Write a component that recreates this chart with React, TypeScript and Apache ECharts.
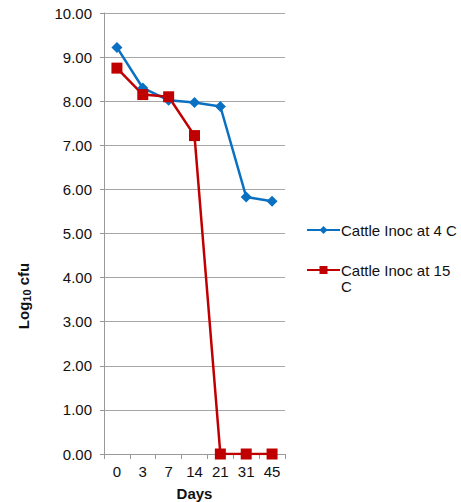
import React, { useEffect, useRef } from "react";
import * as echarts from "echarts";

const days = ["0", "3", "7", "14", "21", "31", "45"];
const inoc4C = [9.22, 8.3, 8.02, 7.97, 7.88, 5.83, 5.73];
const inoc15C = [8.75, 8.15, 8.1, 7.22, 0, 0, 0];
const seriesNames = ["Cattle Inoc at 4 C", "Cattle Inoc at 15 C"];

export default function App() {
  const ref = useRef<HTMLDivElement>(null);
  useEffect(() => {
    const chart = echarts.init(ref.current!, null, { renderer: "svg" });
    const font = "Liberation Sans, Arial, sans-serif";
    chart.setOption({
      animation: false,
      textStyle: { fontFamily: font },
      grid: {
        left: 104,
        top: 13,
        width: 181,
        height: 441,
        containLabel: false,
        outerBoundsMode: "none",
      },
      legend: {
        orient: "vertical",
        left: 301,
        top: 217,
        itemWidth: 33,
        itemHeight: 10,
        itemGap: 8,
        textStyle: { fontSize: 15, lineHeight: 16, color: "#111", fontFamily: font, padding: [0, 0, 0, -4] },
        formatter: (n: string) => (n === seriesNames[1] ? "\nCattle Inoc at 15\nC" : n),
        data: seriesNames,
      },
      xAxis: {
        type: "category",
        data: days,
        boundaryGap: true,
        name: "Days",
        nameLocation: "middle",
        nameGap: 32,
        nameTextStyle: { fontWeight: "bold", fontSize: 15, color: "#111", fontFamily: font },
        axisLine: { lineStyle: { color: "#999", width: 1 } },
        axisTick: { show: true, length: 5, lineStyle: { color: "#999" } },
        axisLabel: { fontSize: 15, color: "#111", margin: 10, fontFamily: font },
      },
      yAxis: {
        type: "value",
        min: 0,
        max: 10,
        interval: 1,
        axisLine: { show: true, lineStyle: { color: "#999", width: 1 } },
        axisTick: { show: true, length: 4, lineStyle: { color: "#999" } },
        axisLabel: {
          fontSize: 15,
          color: "#111",
          margin: 12,
          fontFamily: font,
          formatter: (v: number) => v.toFixed(2),
        },
        splitLine: { lineStyle: { color: "#a6a6a6", width: 1 } },
      },
      graphic: [
        {
          type: "text",
          x: 23,
          y: 296,
          rotation: Math.PI / 2,
          style: {
            text: "{a|Log}{s|10}{a| cfu}",
            align: "center",
            verticalAlign: "middle",
            rich: {
              a: { fontSize: 15, fontWeight: "bold", fill: "#111", fontFamily: font },
              s: { fontSize: 11, fontWeight: "bold", fill: "#111", fontFamily: font, padding: [7, 0, 0, 0] },
            },
          },
        },
      ],
      series: [
        {
          name: seriesNames[0],
          type: "line",
          data: inoc4C,
          color: "#0a70c2",
          lineStyle: { width: 2.5, color: "#0a70c2" },
          symbol: "diamond",
          symbolSize: 11,
          itemStyle: { color: "#0a70c2" },
        },
        {
          name: seriesNames[1],
          type: "line",
          data: inoc15C,
          color: "#c00000",
          lineStyle: { width: 2.5, color: "#c00000" },
          symbol: "rect",
          symbolSize: 11,
          itemStyle: { color: "#c00000" },
        },
      ],
    });
    return () => chart.dispose();
  }, []);
  return (
    <div
      ref={ref}
      style={{ position: "fixed", left: 0, top: 0, width: 461, height: 502, background: "#fff" }}
    />
  );
}
